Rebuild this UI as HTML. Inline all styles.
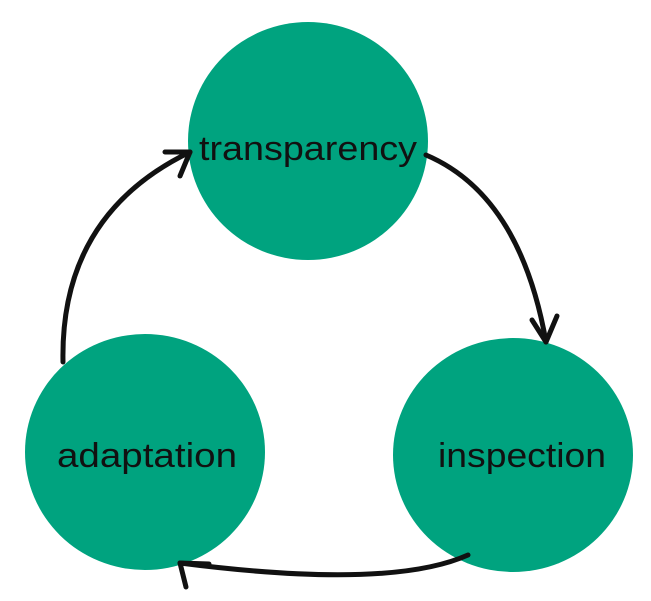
<!DOCTYPE html>
<html><head><style>body{margin:0;background:#fff}svg{display:block}</style></head><body>
<svg width="651" height="601" viewBox="0 0 651 601" xmlns="http://www.w3.org/2000/svg">
<g fill="#00A37F">
<ellipse cx="308" cy="141" rx="120" ry="119"/>
<ellipse cx="145" cy="452" rx="120" ry="118"/>
<ellipse cx="513" cy="455" rx="120" ry="117"/>
</g>
<g fill="none" stroke="#111" stroke-width="5" stroke-linecap="round" stroke-linejoin="round">
<path d="M426 155 Q520 195 546 342"/>
<path d="M532 320 L546 342 L557 316"/>
<path d="M468 555 Q390 590 180 563"/>
<path d="M209 564 L180 563 L186 587"/>
<path d="M63 362 Q60 215 190 152"/>
<path d="M165 152 L190 152 L180 176"/>
</g>
<g font-family="Liberation Sans, sans-serif" font-size="34" fill="#111" text-anchor="middle">
<text x="308" y="160" textLength="218" lengthAdjust="spacingAndGlyphs">transparency</text>
<text x="147" y="467" textLength="180" lengthAdjust="spacingAndGlyphs">adaptation</text>
<text x="522" y="467" textLength="168" lengthAdjust="spacingAndGlyphs">inspection</text>
</g>
</svg>
</body></html>
